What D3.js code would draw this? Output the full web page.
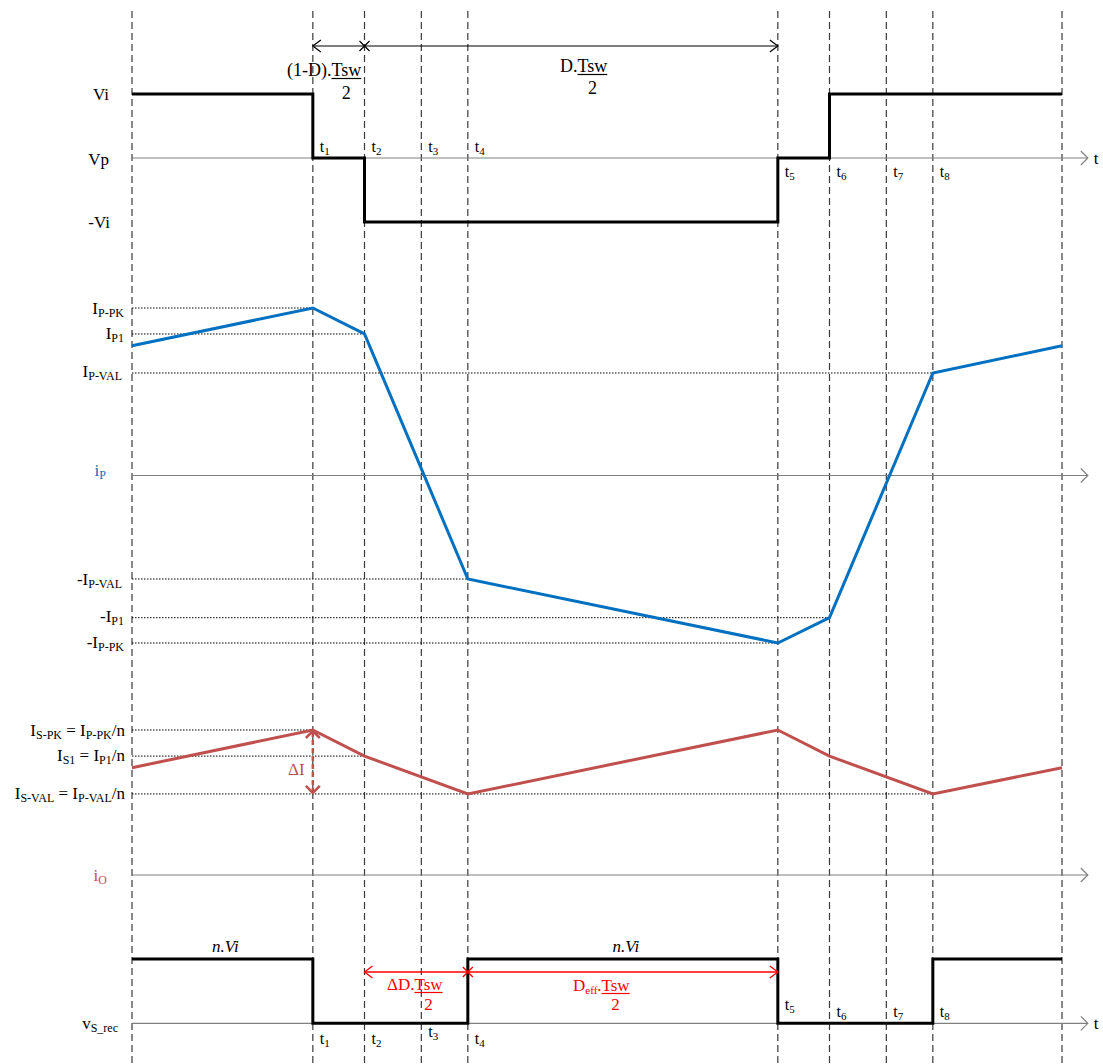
<!DOCTYPE html>
<html>
<head>
<meta charset="utf-8">
<script src="https://cdn.jsdelivr.net/npm/d3@7"></script>
<style>
  body { margin: 0; background: #fff; }
  svg { display: block; font-family: "Liberation Serif", "Times New Roman", serif; }
</style>
</head>
<body>
<script>
// ---------------- DATA ----------------
const eventTimes = [0, 7, 9, 11.2, 13, 25, 27, 29.2, 31, 36];
const eventNames = ["", "t1", "t2", "t3", "t4", "t5", "t6", "t7", "t8", ""];
const axisEndTime = 37;

// primary voltage v_P (units of Vi)
const vpTimes  = [0, 7, 7, 9, 9, 25, 25, 27, 27, 36];
const vpValues = [1, 1, 0, 0, -1, -1, 0, 0, 1, 1];

// primary current i_P (normalised to I_P-PK)
const ipTimes  = [0, 7, 9, 13, 25, 27, 31, 36];
const ipValues = [0.775, 1.0, 0.845, -0.618, -1.0, -0.849, 0.612, 0.775];

// output current i_O (normalised)
const ioTimes  = [0, 7, 9, 13, 25, 27, 31, 36];
const ioValues = [0.74, 1.0, 0.82, 0.559, 1.0, 0.82, 0.559, 0.74];

// rectified secondary voltage v_S_rec (units of n.Vi)
const vsTimes  = [0, 7, 7, 13, 13, 25, 25, 31, 31, 36];
const vsValues = [1, 1, 0, 0, 1, 1, 0, 0, 1, 1];

// reference levels
const ipLevelValues = [1.0, 0.845, 0.612, -0.618, -0.849, -1.0];
const ipLevelEnds   = [7, 9, 31, 13, 27, 25];
const ioLevelValues = [1.0, 0.82, 0.559];
const ioLevelEnds   = [7, 9, 31];

// ---------------- SETUP ----------------
const W = 1103, H = 1064;
const svg = d3.select("body").append("svg").attr("width", W).attr("height", H);

const x = d3.scaleLinear().domain([0, 36]).range([132, 1062]);
const yV = d3.scaleLinear().domain([-1, 1]).range([222, 94]);
const yI = d3.scaleLinear().domain([-1, 1]).range([643, 308]);
const yO = d3.scaleLinear().domain([0, 1]).range([875, 730]);
const yS = d3.scaleLinear().domain([0, 1]).range([1023.3, 959]);

const BLUE = "#0070C0", DRED = "#C0504D", RED = "#FF0000";
const MAIN = 17, SUB = 12;

// ---------------- helpers ----------------
function richText(g, xPos, yPos, parts, opts = {}) {
  const size = opts.size || MAIN;
  const sub = opts.sub || SUB;
  const t = g.append("text").attr("x", xPos).attr("y", yPos)
    .attr("text-anchor", opts.anchor || "start")
    .attr("fill", opts.color || "#000")
    .attr("font-size", size)
    .attr("font-style", opts.italic ? "italic" : null);
  let shifted = false;
  parts.forEach(([txt, kind]) => {
    const s = t.append("tspan").text(txt);
    if (kind === "s") {
      s.attr("font-size", sub);
      if (!shifted) { s.attr("dy", 3); shifted = true; }
    } else {
      if (shifted) { s.attr("dy", -3); shifted = false; }
    }
  });
  return t;
}

function chevron(g, px, py, dir, color, len = 8, half = 6, w = 1.2) {
  let p;
  if (dir === "l") p = [[px + len, py - half], [px, py], [px + len, py + half]];
  if (dir === "r") p = [[px - len, py - half], [px, py], [px - len, py + half]];
  if (dir === "u") p = [[px - half, py + len], [px, py], [px + half, py + len]];
  if (dir === "d") p = [[px - half, py - len], [px, py], [px + half, py - len]];
  g.append("path").attr("d", d3.line()(p)).attr("fill", "none")
    .attr("stroke", color).attr("stroke-width", w);
}

function cross(g, px, py, color, s = 5, w = 1.2) {
  g.append("path").attr("d", `M${px - s},${py - s}L${px + s},${py + s}M${px - s},${py + s}L${px + s},${py - s}`)
    .attr("stroke", color).attr("stroke-width", w).attr("fill", "none");
}

function fraction(g, xStart, baseline, prefixParts, color, size, denomBase) {
  const pre = richText(g, xStart, baseline, prefixParts, { color, size, sub: Math.round(size * 0.65) });
  const pw = pre.node().getComputedTextLength();
  const tx = xStart + pw;
  const tsw = g.append("text").attr("x", tx).attr("y", baseline).attr("fill", color)
    .attr("font-size", size).text("Tsw");
  const tw = tsw.node().getComputedTextLength();
  g.append("line").attr("x1", tx).attr("x2", tx + tw)
    .attr("y1", baseline + 2.5).attr("y2", baseline + 2.5)
    .attr("stroke", color).attr("stroke-width", 1.2);
  g.append("text").attr("x", tx + tw / 2).attr("y", denomBase).attr("text-anchor", "middle")
    .attr("fill", color).attr("font-size", size).text("2");
}

// ---------------- grid: dashed verticals ----------------
const grid = svg.append("g");
eventTimes.forEach(t => {
  grid.append("line").attr("x1", x(t)).attr("x2", x(t)).attr("y1", 11).attr("y2", H)
    .attr("stroke", "#3a3a3a").attr("stroke-width", 1.2).attr("stroke-dasharray", "7,4");
});

// ---------------- axes (horizontal, with arrows) ----------------
const axes = svg.append("g");
function hAxis(yPos, withT) {
  axes.append("line").attr("x1", x(0)).attr("x2", x(axisEndTime)).attr("y1", yPos).attr("y2", yPos)
    .attr("stroke", "#808080").attr("stroke-width", 1.2);
  chevron(axes, x(axisEndTime), yPos, "r", "#808080", 7, 7, 1.2);
  if (withT) {
    axes.append("text").attr("x", x(axisEndTime) + 6).attr("y", yPos + 6)
      .attr("font-size", MAIN).attr("fill", "#000").text("t");
  }
}
hAxis(yV(0), true);
hAxis(yI(0), false);
hAxis(yO(0), false);
hAxis(yS(0), true);

// ---------------- dotted reference levels ----------------
const refs = svg.append("g");
ipLevelValues.forEach((v, i) => {
  refs.append("line").attr("x1", x(0)).attr("x2", x(ipLevelEnds[i]))
    .attr("y1", yI(v)).attr("y2", yI(v))
    .attr("stroke", "#000").attr("stroke-width", 1).attr("stroke-dasharray", "1.5,1.5");
});
ioLevelValues.forEach((v, i) => {
  refs.append("line").attr("x1", x(0)).attr("x2", x(ioLevelEnds[i]))
    .attr("y1", yO(v)).attr("y2", yO(v))
    .attr("stroke", "#000").attr("stroke-width", 1).attr("stroke-dasharray", "1.5,1.5");
});

// ---------------- waveforms ----------------
const wf = svg.append("g");
function wave(times, values, yScale, color) {
  const pts = times.map((t, i) => [x(t), yScale(values[i])]);
  wf.append("path").attr("d", d3.line()(pts)).attr("fill", "none")
    .attr("stroke", color).attr("stroke-width", 3).attr("stroke-linejoin", "miter");
}
wave(vpTimes, vpValues, yV, "#000");
wave(ipTimes, ipValues, yI, BLUE);
wave(ioTimes, ioValues, yO, DRED);
wave(vsTimes, vsValues, yS, "#000");

// ---------------- top timing arrow ----------------
const ann = svg.append("g");
ann.append("line").attr("x1", x(7)).attr("x2", x(25)).attr("y1", 46).attr("y2", 46)
  .attr("stroke", "#000").attr("stroke-width", 1.2);
chevron(ann, x(7), 46, "l", "#000", 8, 6);
chevron(ann, x(25), 46, "r", "#000", 8, 6);
cross(ann, x(9), 46, "#000", 5);
fraction(ann, 287, 76, [["(1-D).", "m"]], "#000", 18, 99);
fraction(ann, 560, 72, [["D.", "m"]], "#000", 18, 94);

// ---------------- bottom timing arrow (red) ----------------
ann.append("line").attr("x1", x(9)).attr("x2", x(25)).attr("y1", 972).attr("y2", 972)
  .attr("stroke", RED).attr("stroke-width", 1.3);
chevron(ann, x(9), 972, "l", RED, 8, 6, 1.3);
chevron(ann, x(25), 972, "r", RED, 8, 6, 1.3);
cross(ann, x(13), 972, RED, 5, 1.3);
fraction(ann, 387, 990, [["ΔD.", "m"]], RED, 17, 1010);
fraction(ann, 573, 991, [["D", "m"], ["eff", "s"], [".", "m"]], RED, 17, 1010);

// ---------------- ΔI arrow ----------------
ann.append("line").attr("x1", x(7)).attr("x2", x(7)).attr("y1", yO(1.0) + 2).attr("y2", yO(0.559) - 2)
  .attr("stroke", DRED).attr("stroke-width", 2.5).attr("stroke-dasharray", "5,3");
chevron(ann, x(7), yO(1.0) + 1, "u", DRED, 7, 7, 2.5);
chevron(ann, x(7), yO(0.559) - 1, "d", DRED, 7, 7, 2.5);
ann.append("text").attr("x", 288).attr("y", 775).attr("font-size", MAIN).attr("fill", DRED).text("ΔI");

// ---------------- n.Vi labels ----------------
ann.append("text").attr("x", (x(0) + x(7)) / 2 + 3).attr("y", 952).attr("text-anchor", "middle")
  .attr("font-size", MAIN).attr("font-style", "italic").text("n.Vi");
ann.append("text").attr("x", (x(13) + x(25)) / 2 + 3).attr("y", 952).attr("text-anchor", "middle")
  .attr("font-size", MAIN).attr("font-style", "italic").text("n.Vi");

// ---------------- event labels t1..t8 ----------------
const tl = svg.append("g");
function tLabel(i, baseline) {
  richText(tl, x(eventTimes[i]) + 7, baseline, [["t", "m"], [eventNames[i].slice(1), "s"]], { size: 16, sub: 11 });
}
[1, 2, 3, 4].forEach(i => tLabel(i, 152));
[5, 6, 7, 8].forEach(i => tLabel(i, 177));
[1, 2, 4].forEach(i => tLabel(i, 1044));
tLabel(3, 1037);
tLabel(5, 1010);
[6, 7, 8].forEach(i => tLabel(i, 1017));

// ---------------- left labels ----------------
const lab = svg.append("g");
richText(lab, 109, 100, [["Vi", "m"]], { anchor: "end" });
richText(lab, 109, 165, [["Vp", "m"]], { anchor: "end" });
richText(lab, 110, 228, [["-Vi", "m"]], { anchor: "end" });

richText(lab, 124, 314, [["I", "m"], ["P-PK", "s"]], { anchor: "end" });
richText(lab, 124, 339, [["I", "m"], ["P1", "s"]], { anchor: "end" });
richText(lab, 122, 377, [["I", "m"], ["P-VAL", "s"]], { anchor: "end" });
richText(lab, 106, 476, [["i", "m"], ["P", "s"]], { anchor: "end", color: BLUE });
richText(lab, 122, 585, [["-I", "m"], ["P-VAL", "s"]], { anchor: "end" });
richText(lab, 124, 622, [["-I", "m"], ["P1", "s"]], { anchor: "end" });
richText(lab, 124, 648, [["-I", "m"], ["P-PK", "s"]], { anchor: "end" });

richText(lab, 125, 736, [["I", "m"], ["S-PK", "s"], [" = I", "m"], ["P-PK", "s"], ["/n", "m"]], { anchor: "end" });
richText(lab, 125, 761, [["I", "m"], ["S1", "s"], [" = I", "m"], ["P1", "s"], ["/n", "m"]], { anchor: "end" });
richText(lab, 125, 799, [["I", "m"], ["S-VAL", "s"], [" = I", "m"], ["P-VAL", "s"], ["/n", "m"]], { anchor: "end" });
richText(lab, 107, 881, [["i", "m"], ["O", "s"]], { anchor: "end", color: DRED });

richText(lab, 118, 1029, [["v", "m"], ["S_rec", "s"]], { anchor: "end" });
</script>
</body>
</html>
